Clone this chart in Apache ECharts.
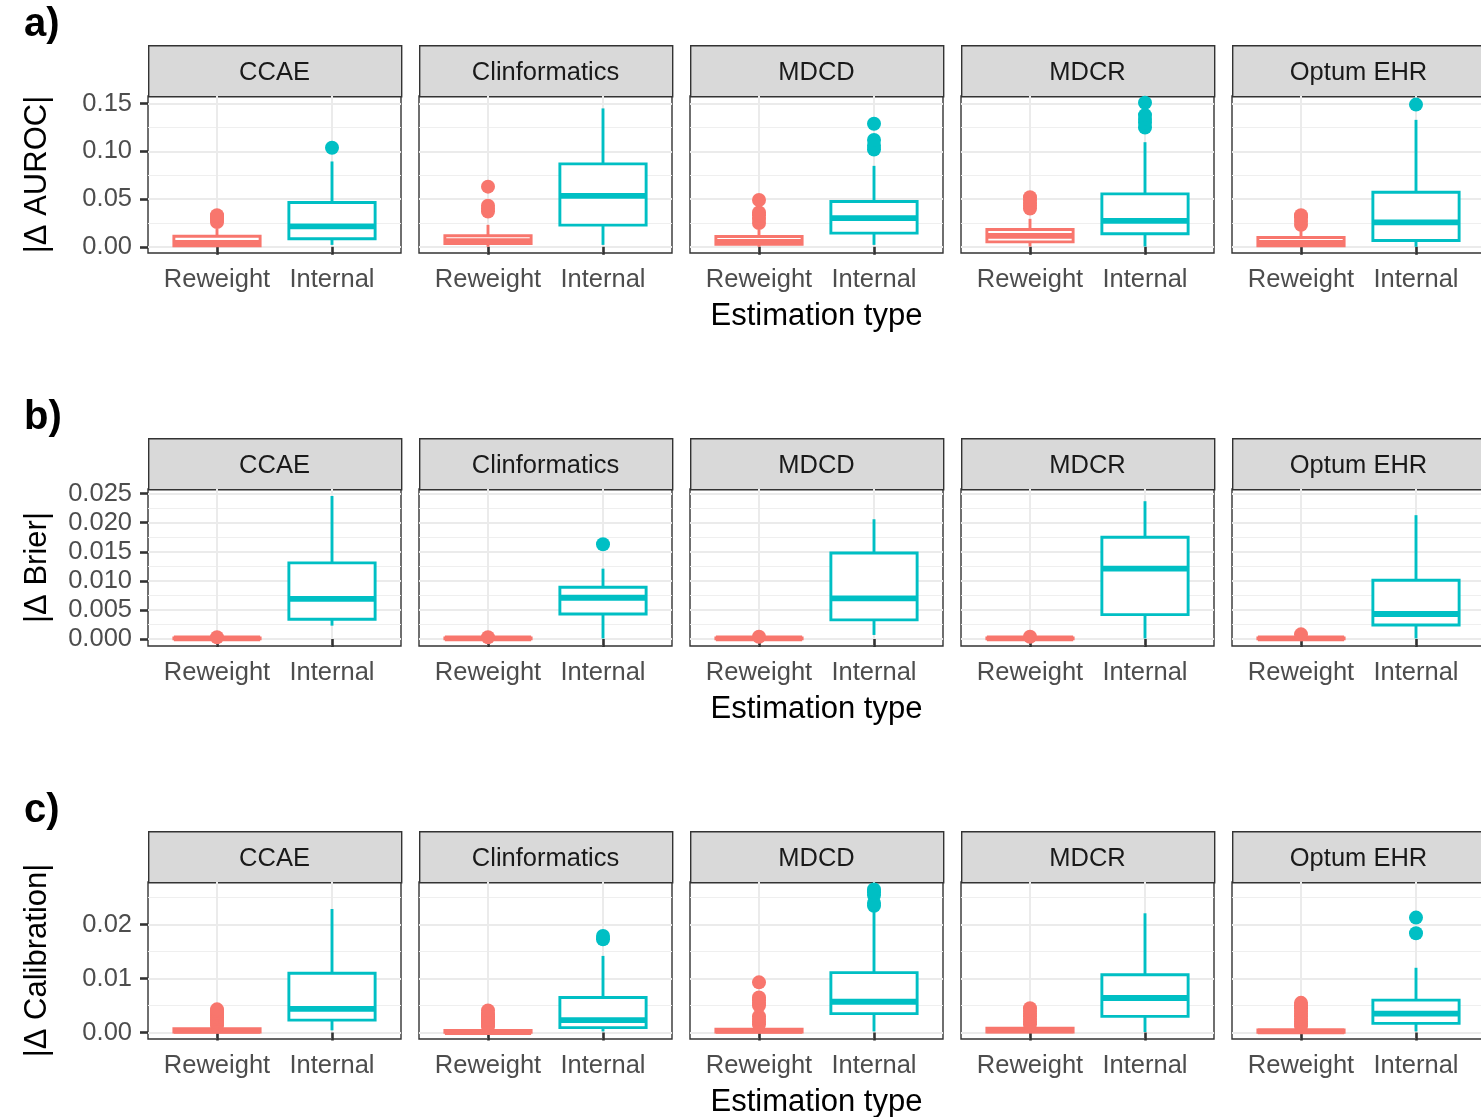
<!DOCTYPE html>
<html><head><meta charset="utf-8">
<script src="https://cdn.jsdelivr.net/npm/echarts@6/dist/echarts.min.js"></script>
<style>html,body{margin:0;padding:0;background:#fff}#c{width:1481px;height:1117px}</style>
</head><body><div id="c"></div>
<script>
// ---------------- DATA ----------------
const panels = ['CCAE', 'Clinformatics', 'MDCD', 'MDCR', 'Optum EHR'];
const groups = ['Reweight', 'Internal'];
const metricTitles = ['|\u0394 AUROC|', '|\u0394 Brier|', '|\u0394 Calibration|'];
const panelLetters = ['a)', 'b)', 'c)'];
const xAxisTitle = 'Estimation type';

// box stats per panel: [min, Q1, median, Q3, max]
const aurocReweightBox = [[0,0.001,0.004,0.011,0.019],[0,0.0035,0.006,0.0115,0.023],[0,0.0025,0.005,0.0108,0.018],[0.0003,0.0052,0.0115,0.0181,0.0293],[0,0.001,0.004,0.0098,0.0178]];
const aurocInternalBox = [[0.002,0.0084,0.0213,0.0464,0.0894],[0.002,0.0227,0.0534,0.0869,0.145],[0.002,0.0143,0.030,0.0475,0.0848],[0.0003,0.0136,0.0272,0.0555,0.1096],[0,0.0066,0.0255,0.0572,0.133]];
const aurocReweightOut = [[0.026,0.028,0.030,0.032,0.033],[0.037,0.040,0.043,0.063],[0.025,0.029,0.033,0.036,0.049],[0.040,0.043,0.046,0.049,0.052],[0.023,0.027,0.031,0.033]];
const aurocInternalOut = [[0.1037],[],[0.102,0.106,0.112,0.129],[0.125,0.130,0.134,0.138,0.151],[0.149]];

const brierReweightBox = [[0,0.00005,0.0001,0.0002,0.0004],[0,0.00005,0.0001,0.0002,0.0004],[0,0.00005,0.0001,0.0002,0.0004],[0,0.00005,0.0001,0.0002,0.0004],[0,0.00005,0.0001,0.0002,0.0005]];
const brierInternalBox = [[0.0023,0.0034,0.0069,0.0131,0.0246],[0.0001,0.0043,0.0071,0.0089,0.0121],[0.0007,0.0033,0.0070,0.0148,0.0206],[0.0001,0.0042,0.0121,0.0175,0.0237],[0.0001,0.0024,0.0043,0.0101,0.0213]];
const brierReweightOut = [[0.0003],[0.0003],[0.0004],[0.0004],[0.0008]];
const brierInternalOut = [[],[0.0163],[],[],[]];

const calReweightBox = [[0,0.0001,0.0003,0.0007,0.0012],[0,0.00005,0.0001,0.0004,0.0009],[0,0.0001,0.0003,0.0006,0.0013],[0,0.0001,0.0004,0.0008,0.0014],[0,0.00005,0.0002,0.0005,0.0011]];
const calInternalBox = [[0.0004,0.0023,0.0044,0.0110,0.0229],[0.0002,0.0009,0.0023,0.0065,0.0142],[0.0002,0.0035,0.0057,0.0111,0.0228],[0.0001,0.0030,0.0064,0.0107,0.0221],[0.0002,0.0017,0.0035,0.0060,0.0120]];
const calReweightOut = [[0.0013,0.0016,0.0019,0.0022,0.0025,0.0028,0.0031,0.0034,0.0037,0.0040,0.0043],[0.0011,0.0014,0.0017,0.0020,0.0023,0.0026,0.0030,0.0034,0.0041],[0.0015,0.0020,0.0025,0.0030,0.0050,0.0055,0.0060,0.0065,0.0093],[0.0015,0.0020,0.0025,0.0030,0.0035,0.0040,0.0045],[0.0012,0.0016,0.0020,0.0025,0.0030,0.0035,0.0040,0.0045,0.0050,0.0055]];
const calInternalOut = [[],[0.0173,0.0179],[0.0235,0.0240,0.0255,0.0260,0.0265],[],[0.0184,0.0213]];

// y tick labels per metric row
const aurocTicks = [0, 0.05, 0.10, 0.15];
const brierTicks = [0, 0.005, 0.010, 0.015, 0.020, 0.025];
const calTicks = [0, 0.01, 0.02];
const aurocMinor = [0.025, 0.075, 0.125];
const brierMinor = [0.0025, 0.0075, 0.0125, 0.0175, 0.0225];
const calMinor = [0.005, 0.015, 0.025];
const aurocLimits = [-0.0065, 0.158];
const brierLimits = [-0.0012, 0.0258];
const calLimits = [-0.0012, 0.0279];

// ---------------- BUILD ----------------
const rows = [
  {box: [aurocReweightBox, aurocInternalBox], out: [aurocReweightOut, aurocInternalOut], ticks: aurocTicks, minor: aurocMinor, lim: aurocLimits, dec: 2},
  {box: [brierReweightBox, brierInternalBox], out: [brierReweightOut, brierInternalOut], ticks: brierTicks, minor: brierMinor, lim: brierLimits, dec: 3},
  {box: [calReweightBox, calInternalBox], out: [calReweightOut, calInternalOut], ticks: calTicks, minor: calMinor, lim: calLimits, dec: 2}
];
const FONT = '"Liberation Sans", Arial, sans-serif';
const groupColors = ['#F8766D', '#00BFC4'];
const colLeft = [148, 419, 690, 961, 1232];
const PW = 253;
const stripTop = [45, 438, 831];
const STRIP_H = 51;
const PLOT_H = 157;
const LW = 2.9;
const BOX_HALF = 0.375;

function renderBox(params, api) {
  const x = api.value(0);
  const lo = api.value(1), q1 = api.value(2), md = api.value(3), q3 = api.value(4), hi = api.value(5);
  const pc = api.coord([x, md]);
  const halfW = api.coord([x + BOX_HALF, md])[0] - pc[0];
  const yLo = api.coord([x, lo])[1], yQ1 = api.coord([x, q1])[1], yQ3 = api.coord([x, q3])[1], yHi = api.coord([x, hi])[1];
  const color = groupColors[params.dataIndex];
  return {type: 'group', children: [
    {type: 'line', shape: {x1: pc[0], y1: yQ3, x2: pc[0], y2: yHi}, style: {stroke: color, lineWidth: LW}},
    {type: 'line', shape: {x1: pc[0], y1: yQ1, x2: pc[0], y2: yLo}, style: {stroke: color, lineWidth: LW}},
    {type: 'rect', shape: {x: pc[0] - halfW, y: yQ3, width: 2 * halfW, height: yQ1 - yQ3}, style: {fill: '#fff', stroke: color, lineWidth: LW}},
    {type: 'line', shape: {x1: pc[0] - halfW, y1: pc[1], x2: pc[0] + halfW, y2: pc[1]}, style: {stroke: color, lineWidth: LW * 2, lineCap: 'butt'}}
  ]};
}

const grid = [], xAxis = [], yAxis = [], series = [], graphic = [];
rows.forEach((row, r) => {
  graphic.push({type: 'text', left: 24, top: stripTop[r] - 40, style: {text: panelLetters[r], font: 'bold 40px ' + FONT, fill: '#000'}});
  panels.forEach((p, c) => {
    const gi = r * 5 + c;
    const top = stripTop[r] + STRIP_H;
    grid.push({left: colLeft[c], top: top, width: PW, height: PLOT_H, show: true, borderColor: '#333333', borderWidth: 1.4, backgroundColor: '#fff', outerBoundsMode: 'none'});
    xAxis.push({
      type: 'value', gridIndex: gi, min: 0.4, max: 2.6,
      name: c === 2 ? xAxisTitle : '', nameLocation: 'middle', nameGap: 48, nameMoveOverlap: false,
      nameTextStyle: {fontSize: 31, color: '#000', fontFamily: FONT},
      axisLine: {show: false},
      axisTick: {show: true, length: 8, customValues: [1, 2], lineStyle: {color: '#333333', width: 2.6}},
      axisLabel: {customValues: [1, 2], formatter: v => groups[Math.round(v) - 1], color: '#4D4D4D', fontSize: 25.5, fontFamily: FONT, margin: 14, hideOverlap: false},
      splitLine: {show: true, lineStyle: {color: '#EBEBEB', width: 2}}
    });
    yAxis.push({
      type: 'value', gridIndex: gi, min: row.lim[0], max: row.lim[1],
      name: c === 0 ? metricTitles[r] : '', nameLocation: 'middle', nameRotate: 90, nameGap: 95, nameMoveOverlap: false,
      nameTextStyle: {fontSize: 31, color: '#000', fontFamily: FONT},
      axisLine: {show: false},
      axisTick: {show: c === 0, length: 8, customValues: row.ticks, lineStyle: {color: '#333333', width: 2.6}},
      axisLabel: {show: c === 0, customValues: row.ticks, formatter: v => v.toFixed(row.dec), color: '#4D4D4D', fontSize: 25.5, fontFamily: FONT, margin: 16},
      splitLine: {show: true, lineStyle: {color: '#EBEBEB', width: 2}}
    });
    yAxis.push({
      type: 'value', gridIndex: gi, min: row.lim[0], max: row.lim[1],
      axisLine: {show: false},
      axisTick: {show: false, customValues: row.minor},
      axisLabel: {show: false},
      splitLine: {show: true, lineStyle: {color: '#EFEFEF', width: 1.2}}
    });
    const boxData = groups.map((g, k) => [k + 1].concat(row.box[k][c]));
    series.push({
      type: 'custom', xAxisIndex: gi, yAxisIndex: 2 * gi, renderItem: renderBox,
      encode: {x: 0, y: [1, 2, 3, 4, 5]}, data: boxData, silent: true, z: 3
    });
    groups.forEach((g, k) => {
      series.push({
        type: 'scatter', xAxisIndex: gi, yAxisIndex: 2 * gi, symbolSize: 14,
        itemStyle: {color: groupColors[k], opacity: 1},
        data: row.out[k][c].map(v => [k + 1, v]), silent: true, z: 4
      });
    });
    graphic.push({type: 'rect', left: colLeft[c], top: stripTop[r], shape: {width: PW, height: STRIP_H}, style: {fill: '#D9D9D9', stroke: '#333333', lineWidth: 1.4}});
    graphic.push({type: 'text', x: colLeft[c] + PW / 2, y: stripTop[r] + STRIP_H / 2 + 2, style: {text: p, font: '25.5px ' + FONT, fill: '#1A1A1A', align: 'center', verticalAlign: 'middle'}});
  });
});

const chart = echarts.init(document.getElementById('c'), null, {renderer: 'canvas'});
chart.setOption({animation: false, backgroundColor: '#fff', grid, xAxis, yAxis, series, graphic});
</script></body></html>
